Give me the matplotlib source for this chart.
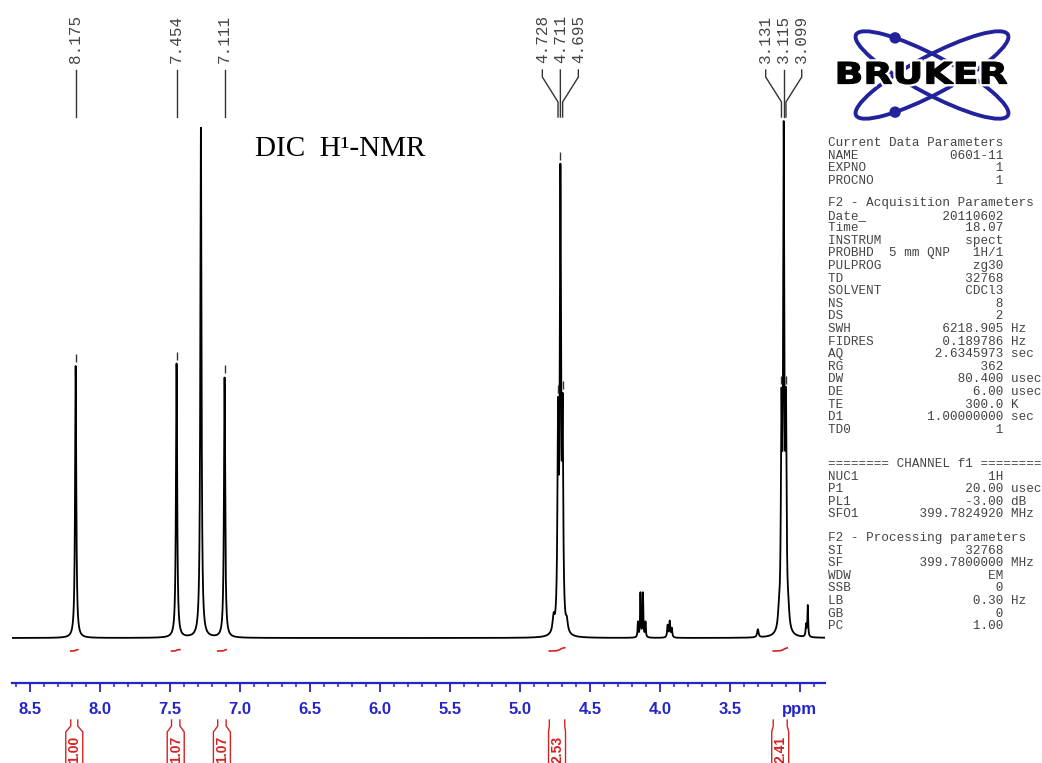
import numpy as np
import matplotlib.pyplot as plt
from matplotlib.patches import Ellipse, Circle, PathPatch
from matplotlib.textpath import TextPath
from matplotlib.font_manager import FontProperties
from matplotlib.transforms import Affine2D
from matplotlib.ticker import MultipleLocator

# peaks: position (ppm), height (px above baseline), half width (ppm)
peak_ppm = [8.175, 7.454, 7.280, 7.111,
            4.728, 4.711, 4.695, 4.760, 4.665,
            4.157, 4.139, 4.121, 4.103,
            3.945, 3.930, 3.915, 3.300,
            3.131, 3.115, 3.099, 3.150, 3.082,
            2.955, 2.943]
peak_height = [272, 274, 510, 260,
               200, 440, 200, 15, 10,
               15, 44, 44, 15,
               12, 16, 9, 8,
               200, 480, 200, 12, 14,
               12, 31]
peak_hwhm = [0.005, 0.005, 0.005, 0.005,
             0.005, 0.005, 0.005, 0.008, 0.008,
             0.003, 0.003, 0.003, 0.003,
             0.004, 0.004, 0.004, 0.006,
             0.005, 0.005, 0.005, 0.008, 0.008,
             0.004, 0.003]

# peak picking labels
label_ppm = [8.175, 7.454, 7.111, 4.728, 4.711, 4.695, 3.131, 3.115, 3.099]
label_text = ["8.175", "7.454", "7.111", "4.728", "4.711", "4.695", "3.131", "3.115", "3.099"]
label_group = [0, 1, 2, 3, 3, 3, 4, 4, 4]

# integrals
int_from = [8.21, 7.49, 7.16, 4.79, 3.19]
int_to = [8.16, 7.43, 7.10, 4.68, 3.09]
int_value = ["1.00", "1.07", "1.07", "2.53", "2.41"]

# axis
tick_pos = [8.5, 8.0, 7.5, 7.0, 6.5, 6.0, 5.5, 5.0, 4.5, 4.0, 3.5, 3.0]
tick_lab = ["8.5", "8.0", "7.5", "7.0", "6.5", "6.0", "5.5", "5.0", "4.5", "4.0", "3.5", "ppm"]

# acquisition parameter panel
current_params = [("NAME", "0601-11", ""), ("EXPNO", "1", ""), ("PROCNO", "1", "")]
acq_params = [("Date_", "20110602", ""), ("Time", "18.07", ""), ("INSTRUM", "spect", ""),
              ("PROBHD", "5 mm QNP   1H/1", ""), ("PULPROG", "zg30", ""), ("TD", "32768", ""),
              ("SOLVENT", "CDCl3", ""), ("NS", "8", ""), ("DS", "2", ""),
              ("SWH", "6218.905", "Hz"), ("FIDRES", "0.189786", "Hz"), ("AQ", "2.6345973", "sec"),
              ("RG", "362", ""), ("DW", "80.400", "usec"), ("DE", "6.00", "usec"),
              ("TE", "300.0", "K"), ("D1", "1.00000000", "sec"), ("TD0", "1", "")]
chan_params = [("NUC1", "1H", ""), ("P1", "20.00", "usec"), ("PL1", "-3.00", "dB"),
               ("SFO1", "399.7824920", "MHz")]
proc_params = [("SI", "32768", ""), ("SF", "399.7800000", "MHz"), ("WDW", "EM", ""),
               ("SSB", "0", ""), ("LB", "0.30", "Hz"), ("GB", "0", ""), ("PC", "1.00", "")]

blue = "#2424c8"
red = "#d42222"
grey = "#444444"
W, H = 1042, 763

fig = plt.figure(figsize=(W / 100, H / 100), dpi=100)
ax = fig.add_axes([12 / W, (H - 660) / H, 813 / W, 540 / H])

# spectrum from peak table (Lorentzian lines)
ppm = np.linspace(8.63, 2.82, 30000)
spec = np.zeros_like(ppm)
for p, h, w in zip(peak_ppm, peak_height, peak_hwhm):
    spec += h / (1 + ((ppm - p) / w) ** 2)

def spec_at(x):
    return sum(h / (1 + ((x - p) / w) ** 2) for p, h, w in zip(peak_ppm, peak_height, peak_hwhm))

ax.plot(ppm, spec, color="black", lw=1.3)
ax.set_xlim(8.63, 2.82)
ax.set_ylim(-22, 518)

# peak pick markers
for p in label_ppm:
    top = spec_at(p)
    ax.vlines(p, top + 4, top + 12, color="#333333", lw=1)

# integral traces
for a, b, v in zip(int_from, int_to, int_value):
    m = (ppm <= a) & (ppm >= b)
    cum = np.cumsum(spec[m])
    cum = cum / cum[-1] * float(v) * 1.3
    ax.plot(ppm[m], -13 + cum, color=red, lw=1.2)

for s in ["left", "right", "top"]:
    ax.spines[s].set_visible(False)
ax.set_yticks([])
ax.spines["bottom"].set_position(("outward", 16.6))
ax.spines["bottom"].set_color(blue)
ax.spines["bottom"].set_linewidth(1.6)
ax.set_xticks(tick_pos)
ax.set_xticklabels(tick_lab, fontweight="bold", family="Liberation Sans", fontsize=12)
ax.xaxis.set_minor_locator(MultipleLocator(0.1))
ax.tick_params(axis="x", which="major", length=6.5, width=1.3, colors=blue, pad=7)
ax.tick_params(axis="x", which="minor", length=3, width=1.1, colors=blue)
ax.patch.set_alpha(0)

# overlay in pixel coordinates for annotation furniture
ov = fig.add_axes([0, 0, 1, 1])
ov.set_xlim(0, W)
ov.set_ylim(H, 0)
ov.axis("off")
ov.patch.set_alpha(0)

def px(p):
    return ax.transData.transform((p, 0))[0]

# peak labels with connector lines
for g in sorted(set(label_group)):
    idx = [i for i, gg in enumerate(label_group) if gg == g]
    pks = [px(label_ppm[i]) for i in idx]
    c = np.mean(pks)
    n = len(idx)
    for k, i in enumerate(idx):
        lx = c + (k - (n - 1) / 2) * 18
        pk = pks[k]
        if n == 1:
            lx = pk
            ov.plot([lx, lx], [70, 117], color="#333333", lw=1)
        else:
            ov.plot([lx, lx, pk, pk], [70, 77, 102, 117], color="#333333", lw=1)
        ov.text(lx, 63, label_text[i], rotation=90, ha="center", va="bottom",
                family="Liberation Mono", fontsize=11.5, color=grey)

# integral brackets
for a, b, v in zip(int_from, int_to, int_value):
    x1, x2 = px(a), px(b)
    cx = (x1 + x2) / 2
    ov.plot([x1, x1, cx - 8.5, cx - 8.5], [720, 726, 732, 765], color=red, lw=1)
    ov.plot([x2, x2, cx + 8.5, cx + 8.5], [720, 726, 732, 765], color=red, lw=1)
    ov.text(cx, 749, v, rotation=90, ha="center", va="center", color=red,
            fontweight="bold", family="Liberation Sans", fontsize=10)

# title
ov.text(255, 156, "DIC  H\u00b9-NMR", family="Liberation Serif", fontsize=21,
        ha="left", va="baseline", color="black")

# logo
lc = (932, 75)
lblue = "#22229c"
for ang in (28, -28):
    ov.add_patch(Ellipse(lc, 172, 38, angle=ang, fill=False, ec=lblue, lw=2.8))
th = np.deg2rad(28)
for sgn in (1, -1):
    t = np.pi + sgn * 0.95
    dx = 86 * np.cos(t) * np.cos(th) - 19 * np.sin(t) * np.sin(sgn * th)
    dy = 86 * np.cos(t) * np.sin(sgn * th) + 19 * np.sin(t) * np.cos(th)
    ov.add_patch(Circle((lc[0] + dx, lc[1] + dy), 5, color=lblue))
tp = TextPath((0, 0), "BRUKER", size=100, prop=FontProperties(family="DejaVu Sans", weight="bold"))
ext = tp.get_extents()
tr = Affine2D().translate(-ext.x0, -ext.y0).scale(169 / ext.width, -22 / ext.height).translate(838, 84)
path = tr.transform_path(tp)
ov.add_patch(PathPatch(path, fc="white", ec="white", lw=4))
ov.add_patch(PathPatch(path, fc="black", ec="black", lw=0.8))

# parameter panel
x0 = 828
dy = 12.6

def put(y, s):
    ov.text(x0, y, s, family="Liberation Mono", fontsize=9.1, color=grey, ha="left", va="center")

def line(n, v, u):
    return f"{n:<8}{v:>15} {u}" if u else f"{n:<8}{v:>15}"

put(143, "Current Data Parameters")
for k, (n, v, u) in enumerate(current_params):
    put(143 + (k + 1) * dy, line(n, v, u))
put(203, "F2 - Acquisition Parameters")
for k, (n, v, u) in enumerate(acq_params):
    put(203 + (k + 1) * dy, line(n, v, u))
put(464, "======== CHANNEL f1 ========")
for k, (n, v, u) in enumerate(chan_params):
    put(464 + (k + 1) * dy, line(n, v, u))
put(538, "F2 - Processing parameters")
for k, (n, v, u) in enumerate(proc_params):
    put(538 + (k + 1) * dy, line(n, v, u))

fig.savefig("out.png", dpi=100)
